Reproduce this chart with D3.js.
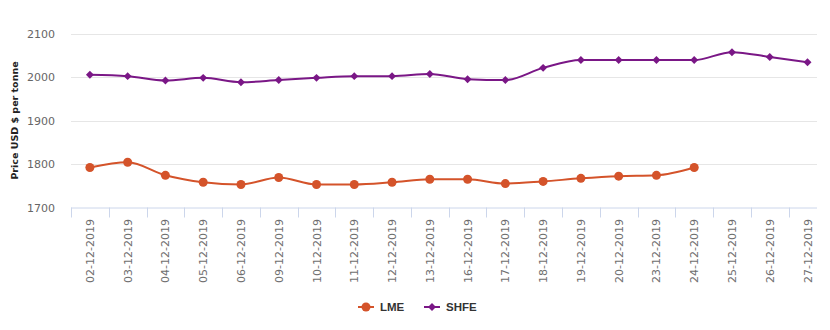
<!DOCTYPE html>
<html lang="en">
<head>
<meta charset="UTF-8">
<title>LME vs SHFE</title>
<script src="https://d3js.org/d3.v7.min.js"></script>
<style>
body { margin: 0; background: #fff; }
svg { display: block; font-family: "DejaVu Sans", Verdana, sans-serif; }
</style>
</head>
<body>
<script>
const dates = ["02-12-2019","03-12-2019","04-12-2019","05-12-2019","06-12-2019","09-12-2019",
  "10-12-2019","11-12-2019","12-12-2019","13-12-2019","16-12-2019","17-12-2019","18-12-2019",
  "19-12-2019","20-12-2019","23-12-2019","24-12-2019","25-12-2019","26-12-2019","27-12-2019"]
const lme = [1792,1804,1774,1758,1753,1769,1753,1753,1758,1765,1765,1755,1760,1767,1772,1774,1792,null,null,null]
const shfe = [2005,2002,1992,1998,1988,1993,1998,2002,2002,2007,1995,1993,2021,2039,2039,2039,2039,2057,2046,2034]
const yTicks = [1700,1800,1900,2000,2100]

const width = 830, height = 330
const plotLeft = 71, plotRight = 817, plotTop = 33.5, plotBottom = 207.5

const svg = d3.select("body").append("svg").attr("width", width).attr("height", height)

const x = d3.scaleBand().domain(dates).range([plotLeft, plotLeft + 37.77 * dates.length])
const y = d3.scaleLinear().domain([1700, 2100]).range([plotBottom, plotTop])

// grid
svg.append("g").selectAll("line").data(yTicks.slice(1)).enter().append("line")
  .attr("x1", plotLeft).attr("x2", plotRight)
  .attr("y1", d => Math.round(y(d)) + 0.5).attr("y2", d => Math.round(y(d)) + 0.5)
  .attr("stroke", "#e6e6e6")

// y labels
svg.append("g").selectAll("text").data(yTicks).enter().append("text")
  .attr("x", 55).attr("y", d => y(d) + 4)
  .attr("text-anchor", "end").attr("font-size", 11).attr("fill", "#666")
  .text(d => d)

svg.append("text")
  .attr("transform", `translate(18,${(plotTop + plotBottom) / 2}) rotate(-90)`)
  .attr("text-anchor", "middle").attr("font-size", 9.5).attr("font-weight", "bold")
  .attr("fill", "#222").text("Price USD $ per tonne")

// x axis
svg.append("line").attr("x1", plotLeft).attr("x2", plotRight)
  .attr("y1", plotBottom + 0.5).attr("y2", plotBottom + 0.5).attr("stroke", "#ccd6eb")
svg.append("g").selectAll("line").data(dates).enter().append("line")
  .attr("x1", d => Math.round(x(d)) + 0.5).attr("x2", d => Math.round(x(d)) + 0.5)
  .attr("y1", plotBottom).attr("y2", plotBottom + 10).attr("stroke", "#ccd6eb")

svg.append("g").selectAll("text").data(dates).enter().append("text")
  .attr("transform", d => `translate(${x(d) + x.bandwidth() / 2 + 4},219) rotate(-90)`)
  .attr("text-anchor", "end").attr("font-size", 11).attr("fill", "#6e6e6e")
  .text(d => d)

// series
const cx = (d, i) => x(dates[i]) + x.bandwidth() / 2
const series = [
  {name: "LME", values: lme, color: "#d4532a", marker: "circle"},
  {name: "SHFE", values: shfe, color: "#7a1786", marker: "diamond"}
]

svg.append("clipPath").attr("id", "plot").append("rect")
  .attr("x", plotLeft - 10).attr("y", 0).attr("width", plotRight - plotLeft + 20).attr("height", plotBottom)

series.forEach(s => {
  const line = d3.line()
    .defined(d => d != null)
    .x(cx).y(d => y(d))
    .curve(d3.curveMonotoneX)
  const g = svg.append("g").attr("clip-path", "url(#plot)")
  g.append("path").datum(s.values)
    .attr("d", line).attr("fill", "none")
    .attr("stroke", s.color).attr("stroke-width", 2)
  const pts = s.values.map((v, i) => ({v, i})).filter(p => p.v != null)
  if (s.marker == "circle") {
    g.selectAll("circle").data(pts).enter().append("circle")
      .attr("cx", p => cx(p.v, p.i)).attr("cy", p => y(p.v)).attr("r", 4.5)
      .attr("fill", s.color)
  } else {
    g.selectAll("path.m").data(pts).enter().append("path").attr("class", "m")
      .attr("d", d3.symbol(d3.symbolDiamond2, 40))
      .attr("transform", p => `translate(${cx(p.v, p.i)},${y(p.v)})`)
      .attr("fill", s.color)
  }
})

// legend
const legend = [
  {name: "LME", color: "#d4532a", marker: "circle", x: 358},
  {name: "SHFE", color: "#7a1786", marker: "diamond", x: 424}
]
legend.forEach(l => {
  const g = svg.append("g").attr("transform", `translate(${l.x},307)`)
  g.append("line").attr("x1", 0).attr("x2", 16).attr("stroke", l.color).attr("stroke-width", 2)
  if (l.marker == "circle") g.append("circle").attr("cx", 8).attr("r", 4.5).attr("fill", l.color)
  else g.append("path").attr("d", d3.symbol(d3.symbolDiamond2, 40)).attr("transform", "translate(8,0)").attr("fill", l.color)
  g.append("text").attr("x", 22).attr("y", 4).attr("font-size", 11.5).attr("font-weight", "bold")
    .attr("font-family", "'Liberation Sans', Arial, sans-serif")
    .attr("fill", "#333").text(l.name)
})
</script>
</body>
</html>
